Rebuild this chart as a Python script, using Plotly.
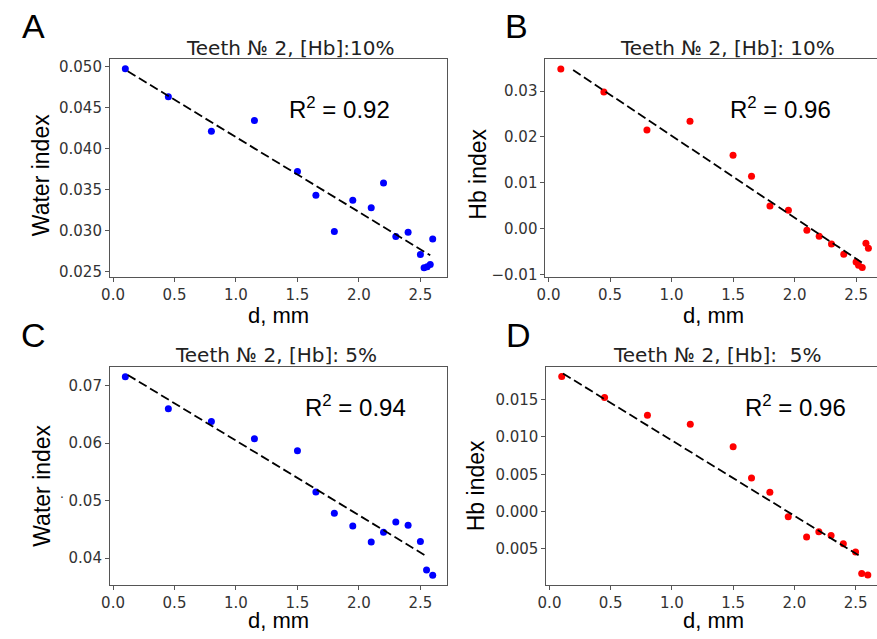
import plotly.graph_objects as go

W, H = 877, 639

# panel A: water index, [Hb] 10%
d_a = [0.1, 0.45, 0.8, 1.15, 1.5, 1.65, 1.8, 1.95, 2.1, 2.2, 2.3, 2.4, 2.5, 2.53, 2.555, 2.58, 2.6]
water_a = [0.0497, 0.0463, 0.0421, 0.0434, 0.0372, 0.0343, 0.0299, 0.0337, 0.0328, 0.0358,
           0.0293, 0.0298, 0.0271, 0.0255, 0.0256, 0.0259, 0.0290]
fit_a_x = [0.12, 2.58]
fit_a_y = [0.0494, 0.0270]

# panel B: Hb index, [Hb] 10%
d_b = [0.1, 0.45, 0.8, 1.15, 1.5, 1.65, 1.8, 1.95, 2.1, 2.2, 2.3, 2.4, 2.5, 2.52, 2.55, 2.58, 2.6]
hb_b = [0.0348, 0.0298, 0.0215, 0.0234, 0.0160, 0.0114, 0.0049, 0.0040, -0.0004, -0.0017,
        -0.0034, -0.0056, -0.0073, -0.0080, -0.0085, -0.0032, -0.0043]
fit_b_x = [0.20, 2.55]
fit_b_y = [0.0346, -0.0075]

# panel C: water index, [Hb] 5%
d_c = [0.1, 0.45, 0.8, 1.15, 1.5, 1.65, 1.8, 1.95, 2.1, 2.2, 2.3, 2.4, 2.5, 2.55, 2.6]
water_c = [0.0716, 0.0660, 0.0638, 0.0608, 0.0587, 0.0515, 0.0478, 0.0456, 0.0428, 0.0445,
           0.0463, 0.0457, 0.0429, 0.0379, 0.0370]
fit_c_x = [0.12, 2.55]
fit_c_y = [0.0719, 0.0403]

# panel D: Hb index, [Hb] 5%
d_d = [0.1, 0.45, 0.8, 1.15, 1.5, 1.65, 1.8, 1.95, 2.1, 2.2, 2.3, 2.4, 2.5, 2.55, 2.6]
hb_d = [0.0181, 0.0153, 0.0129, 0.0117, 0.0087, 0.0045, 0.0026, -0.0007, -0.0034, -0.0027,
        -0.0032, -0.0043, -0.0054, -0.0083, -0.0085]
fit_d_x = [0.11, 2.53]
fit_d_y = [0.0185, -0.0059]

letters = ["A", "B", "C", "D"]
titles = ["Teeth № 2, [Hb]:10%", "Teeth № 2, [Hb]: 10%", "Teeth № 2, [Hb]: 5%", "Teeth № 2, [Hb]:  5%"]
ylabels = ["Water index", "Hb index", "Water index", "Hb index"]
r2_labels = ["0.92", "0.96", "0.94", "0.96"]

x_ticks = [0.0, 0.5, 1.0, 1.5, 2.0, 2.5]
x_tick_text = ["0.0", "0.5", "1.0", "1.5", "2.0", "2.5"]
y_ticks = [
    [0.025, 0.030, 0.035, 0.040, 0.045, 0.050],
    [-0.01, 0.00, 0.01, 0.02, 0.03],
    [0.04, 0.05, 0.06, 0.07],
    [-0.005, 0.000, 0.005, 0.010, 0.015],
]
y_tick_text = [
    ["0.025", "0.030", "0.035", "0.040", "0.045", "0.050"],
    ["\u22120.01", "0.00", "0.01", "0.02", "0.03"],
    ["0.04", "0.05", "0.06", "0.07"],
    ["0.005", "0.000", "0.005", "0.010", "0.015"],
]

panels = [(d_a, water_a, fit_a_x, fit_a_y, "#0000ff"),
          (d_b, hb_b, fit_b_x, fit_b_y, "#ff0000"),
          (d_c, water_c, fit_c_x, fit_c_y, "#0000ff"),
          (d_d, hb_d, fit_d_x, fit_d_y, "#ff0000")]


def px(x, y):
    return x / W, 1 - y / H


# plot boxes in pixels: left, right, top, bottom
boxes = [(102, 443, 58.3, 279.3), (542, 877, 58.3, 278.5),
         (102, 443, 370, 591), (543, 877, 370, 591)]
x_ranges = [[-0.025, 2.72], [-0.025, 2.67], [-0.025, 2.72], [-0.025, 2.675]]
y_ranges = [[0.02432, 0.05084], [-0.0105, 0.0369], [0.03536, 0.07332], [-0.00979, 0.0194]]
mirror_y = [True, False, True, False]

letter_pos = [(25, 24), (513, 24), (25, 338), (515, 338)]
title_pos = [(284, 47), (726, 47), (270, 358), (715, 358)]
ylabel_pos = [(32, 176), (473, 175), (33, 491), (472, 491)]
xlabel_pos = [(272, 318), (712, 318), (272, 627), (712, 627)]
r2_pos = [(334, 108), (780, 108), (350, 410), (795, 410)]

fig = go.Figure()
annotations = []
tick_font = dict(family="DejaVu Sans", size=15, color="#333333")


def ann(text, pos, font, angle=0):
    x, y = px(*pos)
    annotations.append(dict(text=text, x=x, y=y, xref="paper", yref="paper",
                            xanchor="center", yanchor="middle", showarrow=False,
                            font=font, textangle=angle))


for i, (xs, ys, fx, fy, color) in enumerate(panels):
    n = "" if i == 0 else str(i + 1)
    xa, ya = "x" + n, "y" + n
    fig.add_trace(go.Scatter(x=xs, y=ys, mode="markers", xaxis=xa, yaxis=ya,
                             marker=dict(color=color, size=7), showlegend=False))
    fig.add_trace(go.Scatter(x=fx, y=fy, mode="lines", xaxis=xa, yaxis=ya,
                             line=dict(color="black", width=1.8, dash="9px,4px"),
                             showlegend=False))

    l, r, t, b = boxes[i]
    axis_common = dict(showline=True, linecolor="#555555", linewidth=1, ticks="outside",
                       ticklen=4, tickcolor="#555555", showgrid=False, zeroline=False,
                       tickfont=tick_font)
    fig.update_layout({
        "xaxis" + n: dict(domain=[l / W, r / W], range=x_ranges[i], anchor=ya,
                          tickvals=x_ticks, ticktext=x_tick_text, mirror=True, **axis_common),
        "yaxis" + n: dict(domain=[1 - b / H, 1 - t / H], range=y_ranges[i], anchor=xa,
                          tickvals=y_ticks[i], ticktext=y_tick_text[i], mirror=mirror_y[i],
                          **axis_common),
    })

    ann(letters[i], letter_pos[i], dict(family="Liberation Sans", size=34, color="black"))
    ann(titles[i], title_pos[i], dict(family="DejaVu Sans", size=20, color="#222222"))
    ann(ylabels[i], ylabel_pos[i], dict(family="Liberation Sans", size=23, color="black"), -90)
    ann("d, mm", xlabel_pos[i], dict(family="Liberation Sans", size=22, color="black"))
    ann("R<sup>2</sup> = " + r2_labels[i], r2_pos[i],
        dict(family="Liberation Sans", size=24, color="black"))

# small stray dot left of the C panel axis
ann(".", (54, 498), dict(family="Liberation Sans", size=14, color="#333333"))

fig.update_layout(width=W, height=H, margin=dict(l=0, r=0, t=0, b=0),
                  plot_bgcolor="white", paper_bgcolor="white", annotations=annotations)

fig.write_html("out.html", config={"displayModeBar": False},
               post_script="document.body.style.margin='0';")
